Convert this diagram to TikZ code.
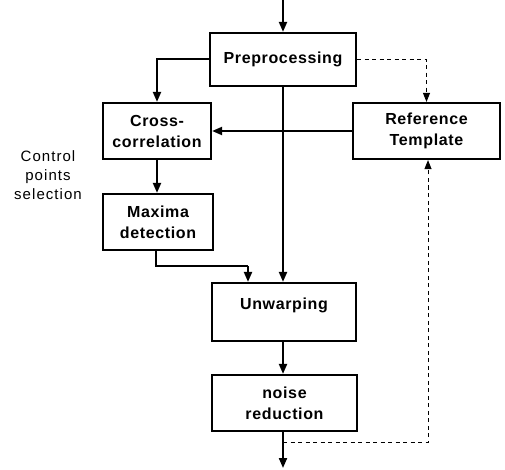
\documentclass[tikz,border=0pt]{standalone}
\usepackage{fontspec}
\setmainfont{Liberation Sans}
\newfontfamily\boxfont[LetterSpace=4]{Liberation Sans}
\newfontfamily\lblfont[LetterSpace=7]{Liberation Sans}
\usetikzlibrary{arrows.meta}
\begin{document}
\begin{tikzpicture}[x=1pt,y=-1pt,
  box/.style={draw,line width=2.2pt,align=center,font=\boxfont\bfseries\fontsize{16}{21}\selectfont,inner sep=0pt},
  arr/.style={line width=2pt,-{Triangle[length=10pt,width=8pt]}},
  ln/.style={line width=2pt},
  darr/.style={line width=1pt,dash pattern=on 4pt off 3.5pt,-{Triangle[length=9pt,width=7pt]}},
  lbl/.style={align=center,font=\lblfont\fontsize{15}{19}\selectfont}]
\useasboundingbox (0,0) rectangle (505,470);
\node[box,minimum width=146pt,minimum height=53pt] (pre) at (283,59.5) {Preprocessing};
\node[box,minimum width=108pt,minimum height=56pt] (cross) at (157,131) {Cross-\\correlation};
\node[box,minimum width=147pt,minimum height=56pt] (ref) at (426.5,131) {Reference\\Template};
\node[box,minimum width=110pt,minimum height=56pt] (max) at (158,222) {Maxima\\detection};
\node[box,minimum width=144pt,minimum height=58pt,text depth=17pt] (unw) at (284,312) {Unwarping};
\node[box,minimum width=145pt,minimum height=56pt] (noise) at (284.5,403) {noise\\reduction};
\node[lbl] (ctl) at (48,175) {Control\\points\\selection};
\coordinate (in) at (283,0);
\coordinate (out) at (283,468);
\coordinate (fb) at (283,442);
\coordinate (mj) at (248,266);
\draw[arr] (in) -- (pre.north);
\draw[arr] (pre.west) -| (cross.north);
\draw[darr] (pre.east) -| (ref.north);
\draw[arr] (pre.south) -- (pre.south |- unw.north);
\draw[arr] (ref.west) -- (cross.east);
\draw[arr] (cross.south) -- (cross.south |- max.north);
\draw[ln] ([xshift=-2pt]max.south) |- (mj);
\draw[arr] (mj) -- (mj |- unw.north);
\draw[arr] (unw.south -| pre.south) -- (noise.north -| pre.south);
\draw[arr] (noise.south -| pre.south) -- (out);
\draw[darr] (fb) -| ([xshift=1.5pt]ref.south);
\end{tikzpicture}
\end{document}
